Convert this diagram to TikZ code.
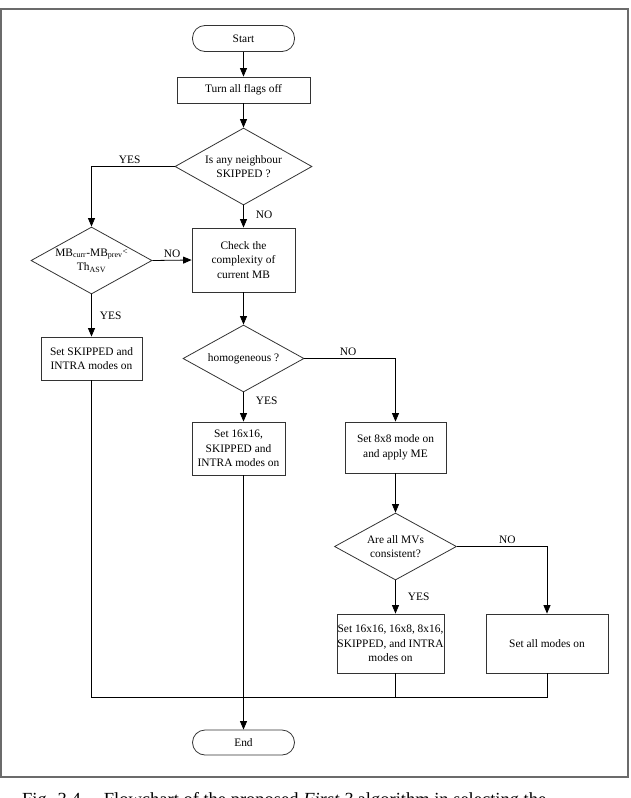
\documentclass[tikz,border=0pt]{standalone}
\usepackage{fontspec}
\setmainfont{Liberation Serif}
\usetikzlibrary{shapes.geometric,arrows.meta}
\begin{document}
\begin{tikzpicture}[x=1pt,y=-1pt,
  every node/.style={font=\fontsize{11.4}{14.6}\selectfont},
  box/.style={draw=black!80,line width=0.8pt,rectangle,align=center,inner sep=0pt},
  term/.style={box,rounded corners=12.5pt},
  decision/.style={draw=black!80,line width=0.8pt,diamond,align=center,inner sep=0pt},
  conn/.style={line width=0.8pt,black},
  arr/.style={conn,-{Triangle[length=8.5pt,width=7pt]}},
  lbl/.style={inner sep=2pt}]
\useasboundingbox (0,0) rectangle (631,798);
\clip (0,0) rectangle (631,798);
\draw[line width=1.5pt,black!58] (1,9) rectangle (628,777);

\node[term,minimum width=102pt,minimum height=26pt] (start) at (243.5,38.5) {Start};
\node[box,minimum width=133pt,minimum height=26pt] (turn) at (243.5,90) {Turn all flags off};
\node[decision,minimum width=137pt,minimum height=77pt,aspect=1.78] (d1) at (243.5,166.5) {Is any neighbour\\SKIPPED ?};
\node[decision,minimum width=121pt,minimum height=67pt,aspect=1.8,inner sep=-3pt] (d2) at (91.5,260.5)
  {MB\textsubscript{curr}-MB\textsubscript{prev}\raisebox{2pt}{\fontsize{9}{10}\selectfont<}\\Th\textsubscript{ASV}};
\node[box,minimum width=103pt,minimum height=64pt] (check) at (243.5,260) {Check the\\complexity of\\current MB};
\node[box,minimum width=101pt,minimum height=43pt] (skip) at (91.5,358.5) {Set SKIPPED and\\INTRA modes on};
\node[decision,minimum width=121pt,minimum height=67pt,aspect=1.8] (d3) at (243.5,358.5) {homogeneous ?};
\node[box,minimum width=93pt,minimum height=53pt] (s16) at (238.5,448.5) {Set 16x16,\\SKIPPED and\\INTRA modes on};
\node[box,minimum width=101pt,minimum height=51pt] (s8) at (395.5,447.5) {Set 8x8 mode on\\and apply ME};
\node[decision,minimum width=122pt,minimum height=67pt,aspect=1.82] (d4) at (395.5,546.5) {Are all MVs\\consistent?};
\node[box,minimum width=107pt,minimum height=59pt] (s1616) at (390.5,643.5) {Set 16x16, 16x8, 8x16,\\SKIPPED, and INTRA\\modes on};
\node[box,minimum width=122pt,minimum height=59pt] (sall) at (547,643.5) {Set all modes on};
\node[term,minimum width=102pt,minimum height=25pt] (end) at (243.5,742.5) {End};

\coordinate (jl) at (91.5,697.5);
\coordinate (jr) at (547,697.5);

\draw[arr] (start) -- (turn);
\draw[arr] (turn) -- (d1);
\draw[arr] (d1.west) -| node[pos=0.27,above,lbl] {YES} (d2.north);
\draw[arr] (d1.south) -- node[right,lbl,xshift=10pt,pos=0.4] {NO} (check.north);
\draw[arr] (d2.east) -- node[above,lbl] {NO} (check.west);
\draw[arr] (d2.south) -- node[right,lbl,xshift=6pt] {YES} (skip.north);
\draw[arr] (check.south) -- (d3.north);
\draw[arr] (d3.south) -- node[right,lbl,pos=0.3,xshift=10pt] {YES} (d3.south |- s16.north);
\draw[arr] (d3.east) -| node[pos=0.24,above,lbl] {NO} (s8.north);
\draw[arr] (s8.south) -- (d4.north);
\draw[arr] (d4.east) -| node[pos=0.28,above,lbl] {NO} (sall.north);
\draw[arr] (d4.south) -- node[right,lbl,xshift=10pt] {YES} (d4.south |- s1616.north);
\draw[conn] (skip.south) -- (jl) -- (jr) -- (sall.south);
\draw[conn] (d4.south |- s1616.south) -- (d4.south |- jl);
\draw[arr] (d3.south |- s16.south) -- (d3.south |- end.north);

\node[anchor=base west,inner sep=0pt,font=\fontsize{18.5}{20}\selectfont] (cap) at (22,805.5)
  {Fig. 3.4 –\ \ Flowchart of the proposed \textit{First 3} algorithm in selecting the};
\end{tikzpicture}
\end{document}
